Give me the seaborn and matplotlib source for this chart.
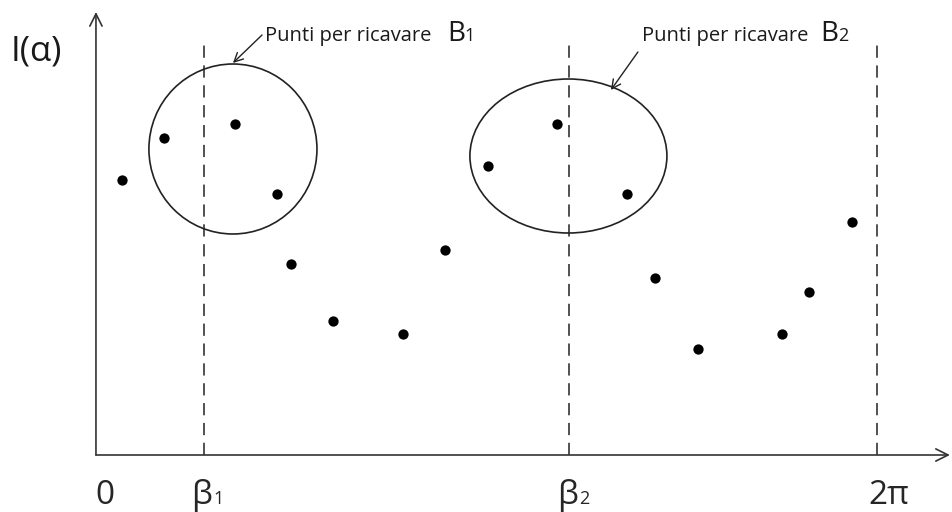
import matplotlib
matplotlib.use("Agg")
import matplotlib.pyplot as plt
from matplotlib.patches import Ellipse
import seaborn as sns
import pandas as pd
import numpy as np

# sampled intensity I(alpha), alpha in [0, 2pi]
alpha = [0.21, 0.55, 1.12, 1.46, 1.57, 1.91, 2.47, 2.81,
         3.15, 3.71, 4.27, 4.50, 4.84, 5.52, 5.74, 6.08]
intens = [2.75, 3.17, 3.31, 2.61, 1.91, 1.34, 1.21, 2.05,
          2.89, 3.31, 2.61, 1.77, 1.06, 1.21, 1.63, 2.33]
beta1 = 0.869
beta2 = 3.805
two_pi = 2 * np.pi

df = pd.DataFrame({"alpha": alpha, "I": intens})

sns.set_style("white")
plt.rcParams["font.family"] = ["Open Sans", "DejaVu Sans"]

fig = plt.figure(figsize=(9.53, 5.12), dpi=100)
ax = fig.add_axes([0, 0, 1, 1])
ax.set_xlim(-0.772, 6.895)
ax.set_ylim(-0.57, 4.55)
ax.axis("off")

# axes with arrows
arrow = dict(arrowstyle="->", color="#333333", lw=1.2,
             mutation_scale=22, shrinkA=0, shrinkB=0)
ax.annotate("", xy=(0, 4.43), xytext=(0, 0), arrowprops=arrow)
ax.annotate("", xy=(6.87, 0), xytext=(0, 0), arrowprops=arrow)

# dashed verticals
for xv in [beta1, beta2, two_pi]:
    ax.plot([xv, xv], [0, 4.17], color="#222222", lw=1.1,
            linestyle=(0, (8, 5)))

sns.scatterplot(data=df, x="alpha", y="I", ax=ax, color="black",
                s=55, edgecolor="black", linewidth=0, legend=False)

# ellipses around points used for B1, B2
ax.add_patch(Ellipse((1.102, 3.06), 1.352, 1.70, fill=False,
                     edgecolor="#222222", lw=1.2))
ax.add_patch(Ellipse((3.801, 2.99), 1.585, 1.54, fill=False,
                     edgecolor="#222222", lw=1.2))

small = dict(arrowstyle="->", color="#222222", lw=1.0, mutation_scale=16,
             shrinkA=0, shrinkB=0)
ax.annotate("", xy=(1.102, 3.92), xytext=(1.336, 4.20), arrowprops=small)
ax.annotate("", xy=(4.143, 3.65), xytext=(4.36, 4.03), arrowprops=small)

txt_y = 4.14
ax.text(1.36, txt_y, "Punti per ricavare", fontsize=14.5, va="baseline",
        color="#1a1a1a")
ax.text(2.824, txt_y, "B", fontsize=20, va="baseline", color="#1a1a1a")
ax.text(2.968, txt_y, "1", fontsize=13, va="baseline", color="#1a1a1a")
ax.text(4.393, txt_y, "Punti per ricavare", fontsize=14.5, va="baseline",
        color="#1a1a1a")
ax.text(5.825, txt_y, "B", fontsize=20, va="baseline", color="#1a1a1a")
ax.text(5.968, txt_y, "2", fontsize=13, va="baseline", color="#1a1a1a")

# labels
ax.text(-0.69, 3.95, "I(α)", fontsize=25, va="baseline", color="#1a1a1a")
lab_y = -0.49
ax.text(0.072, lab_y, "0", fontsize=24, ha="center", va="baseline")
ax.text(0.853, lab_y, "β", fontsize=24, ha="center", va="baseline")
ax.text(0.945, lab_y, "1", fontsize=13, ha="left", va="baseline")
ax.text(3.793, lab_y, "β", fontsize=24, ha="center", va="baseline")
ax.text(3.890, lab_y, "2", fontsize=13, ha="left", va="baseline")
ax.text(6.38, lab_y, "2π", fontsize=24, ha="center", va="baseline")

plt.savefig("out.png", dpi=100)
plt.close()
